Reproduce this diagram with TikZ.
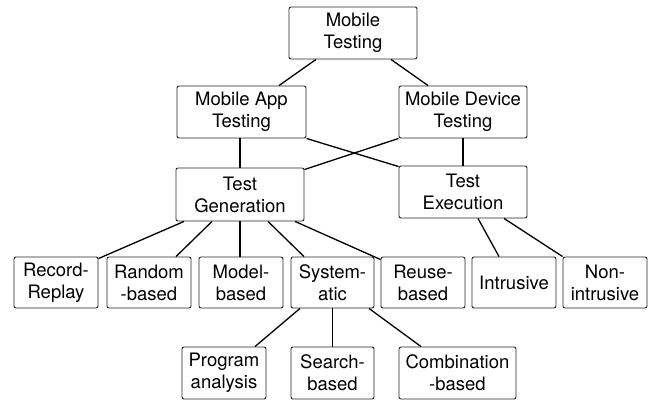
\documentclass[tikz,border=0pt]{standalone}
\usepackage{fontspec}
\setmainfont{TeX Gyre Heros}
\begin{document}
\begin{tikzpicture}[x=1pt,y=-1pt,
  box/.style={draw=black!85, line width=0.9pt, rounded corners=2pt, align=center, inner sep=0pt,
    font=\fontsize{18.5}{22}\selectfont, fill=white},
  bw/.style={minimum width=128pt, minimum height=52pt},
  sw/.style={minimum width=84pt, minimum height=51pt},
  link/.style={draw=black, line width=1.3pt}]
\useasboundingbox (0,0) rectangle (654,403);
% connectors first (under boxes)
\node[box,bw] (mt) at (353,33) {Mobile\\Testing};
\node[box,minimum width=129pt,minimum height=52pt] (app) at (241.5,112) {Mobile App\\Testing};
\node[box,bw] (dev) at (463,112) {Mobile Device\\Testing};
\node[box,minimum width=128pt,minimum height=53pt] (gen) at (240,194.5) {Test\\Generation};
\node[box,bw] (exe) at (463,192) {Test\\Execution};
\node[box,sw] (rr) at (56,282.5) {Record-\\Replay};
\node[box,sw] (rnd) at (149,282.5) {Random\\-based};
\node[box,sw] (mod) at (241,282.5) {Model-\\based};
\node[box,sw,minimum width=83pt] (sys) at (332.5,282.5) {System-\\atic};
\node[box,sw] (reu) at (423,282.5) {Reuse-\\based};
\node[box,sw] (intr) at (514,282.5) {Intrusive};
\node[box,sw] (non) at (605,282.5) {Non-\\intrusive};
\node[box,minimum width=84pt,minimum height=52pt] (prog) at (224,373) {Program\\analysis};
\node[box,minimum width=83pt,minimum height=52pt] (srch) at (332.5,373) {Search-\\based};
\node[box,minimum width=117pt,minimum height=52pt] (comb) at (457.5,373) {Combination\\-based};
% connectors
\draw[link] ([xshift=-37pt]mt.south) -- ([xshift=37.5pt]app.north);
\draw[link] ([xshift=38pt]mt.south) -- ([xshift=-35pt]dev.north);
\draw[link] ([xshift=-1.5pt]app.south) -- (gen.north);
\draw[link] (app.south east) -- ([yshift=-1pt]exe.north west);
\draw[link] (dev.south west) -- ([yshift=-2pt]gen.north east);
\draw[link] (dev.south) -- (exe.north);
\draw[link] ([xshift=-56pt]gen.south) -- ([yshift=-2pt]rr.north east);
\draw[link] ([xshift=-28pt]gen.south) -- ([xshift=27pt]rnd.north);
\draw[link] (gen.south) -- (gen.south |- mod.north);
\draw[link] ([xshift=28pt]gen.south) -- ([xshift=-28.5pt]sys.north);
\draw[link] ([xshift=55pt]gen.south) -- ([yshift=-3pt]reu.north west);
\draw[link] ([xshift=15pt]exe.south) -- ([xshift=-15pt]intr.north);
\draw[link] ([xshift=41pt]exe.south) -- (non.north west);
\draw[link] ([xshift=-32.5pt]sys.south) -- ([xshift=31pt]prog.north);
\draw[link] (sys.south) -- (srch.north);
\draw[link] ([xshift=36.5pt]sys.south) -- ([xshift=-36.5pt]comb.north);
\end{tikzpicture}
\end{document}
